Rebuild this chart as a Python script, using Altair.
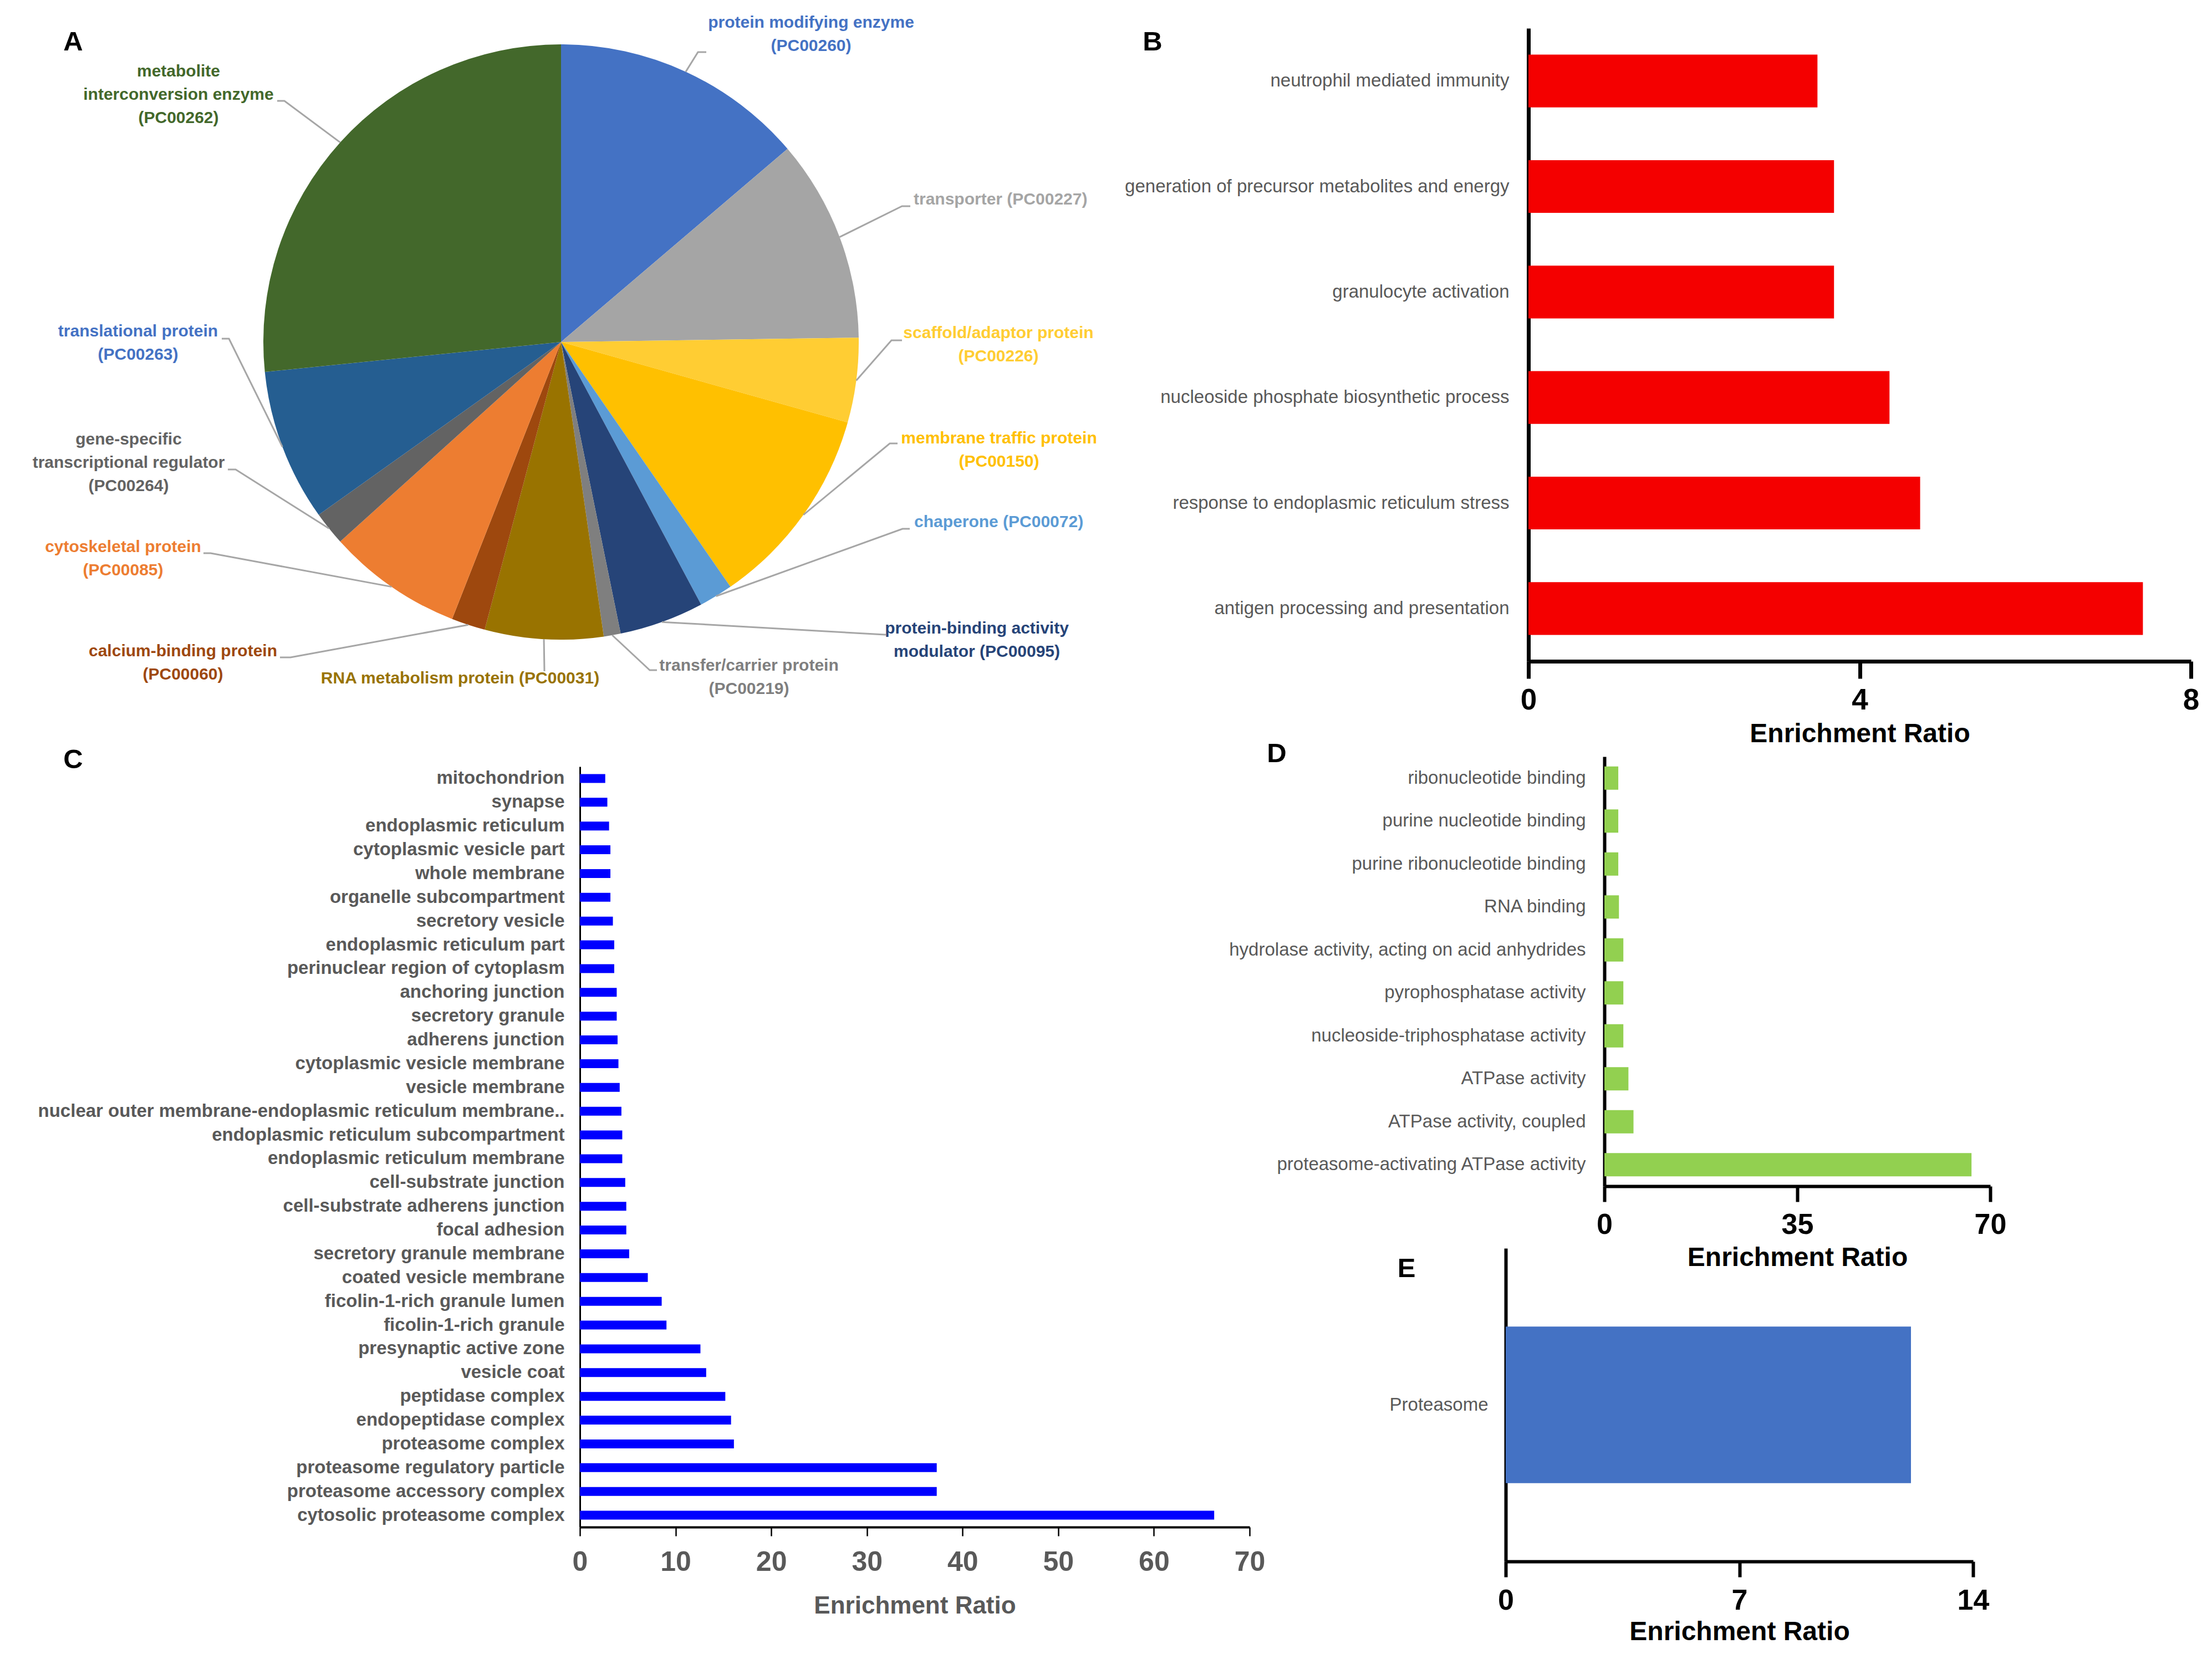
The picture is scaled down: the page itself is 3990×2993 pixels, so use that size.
import math
import altair as alt
import pandas as pd

# ---------------- data ----------------
# Panel A (pie): PANTHER protein classes, counts
pie_names = [
    "protein modifying enzyme", "transporter", "scaffold/adaptor protein",
    "membrane traffic protein", "chaperone", "protein-binding activity modulator",
    "transfer/carrier protein", "RNA metabolism protein", "calcium-binding protein",
    "cytoskeletal protein", "gene-specific transcriptional regulator",
    "translational protein", "metabolite interconversion enzyme",
]
pie_label_lines = [
    ["protein modifying enzyme", "(PC00260)"],
    ["transporter (PC00227)"],
    ["scaffold/adaptor protein", "(PC00226)"],
    ["membrane traffic protein", "(PC00150)"],
    ["chaperone (PC00072)"],
    ["protein-binding activity", "modulator (PC00095)"],
    ["transfer/carrier protein", "(PC00219)"],
    ["RNA metabolism protein (PC00031)"],
    ["calcium-binding protein", "(PC00060)"],
    ["cytoskeletal protein", "(PC00085)"],
    ["gene-specific", "transcriptional regulator", "(PC00264)"],
    ["translational protein", "(PC00263)"],
    ["metabolite", "interconversion enzyme", "(PC00262)"],
]
pie_counts = [15, 12, 5, 12, 2, 5, 1, 7, 2, 8, 2, 9, 29]
pie_colors = ["#4472C4", "#A5A5A5", "#FFCD33", "#FFC000", "#5B9BD5", "#264478",
              "#7F7F7F", "#997300", "#9E480E", "#ED7D31", "#636363", "#255E91", "#43682B"]
pie_label_colors = ["#4472C4", "#A5A5A5", "#FFCD33", "#FFC000", "#5B9BD5", "#264478",
                    "#7F7F7F", "#997300", "#9E480E", "#ED7D31", "#636363", "#4472C4", "#43682B"]

# Panel B
b_terms = ["neutrophil mediated immunity", "generation of precursor metabolites and energy",
           "granulocyte activation", "nucleoside phosphate biosynthetic process",
           "response to endoplasmic reticulum stress", "antigen processing and presentation"]
b_values = [3.49, 3.69, 3.69, 4.36, 4.73, 7.42]

# Panel C
c_terms = ["mitochondrion", "synapse", "endoplasmic reticulum", "cytoplasmic vesicle part",
           "whole membrane", "organelle subcompartment", "secretory vesicle",
           "endoplasmic reticulum part", "perinuclear region of cytoplasm", "anchoring junction",
           "secretory granule", "adherens junction", "cytoplasmic vesicle membrane",
           "vesicle membrane", "nuclear outer membrane-endoplasmic reticulum membrane..",
           "endoplasmic reticulum subcompartment", "endoplasmic reticulum membrane",
           "cell-substrate junction", "cell-substrate adherens junction", "focal adhesion",
           "secretory granule membrane", "coated vesicle membrane", "ficolin-1-rich granule lumen",
           "ficolin-1-rich granule", "presynaptic active zone", "vesicle coat", "peptidase complex",
           "endopeptidase complex", "proteasome complex", "proteasome regulatory particle",
           "proteasome accessory complex", "cytosolic proteasome complex"]
c_values = [2.65, 2.87, 3.05, 3.19, 3.19, 3.19, 3.45, 3.59, 3.59, 3.85, 3.85, 3.94, 4.03, 4.16,
            4.34, 4.43, 4.43, 4.74, 4.85, 4.85, 5.15, 7.1, 8.55, 9.05, 12.6, 13.2, 15.2, 15.8,
            16.1, 37.3, 37.3, 66.3]

# Panel D
d_terms = ["ribonucleotide binding", "purine nucleotide binding", "purine ribonucleotide binding",
           "RNA binding", "hydrolase activity, acting on acid anhydrides", "pyrophosphatase activity",
           "nucleoside-triphosphatase activity", "ATPase activity", "ATPase activity, coupled",
           "proteasome-activating ATPase activity"]
d_values = [2.52, 2.52, 2.52, 2.64, 3.44, 3.44, 3.44, 4.36, 5.28, 66.6]

# Panel E
e_terms = ["Proteasome"]
e_values = [12.14]

b_ticks = [0, 4, 8]
c_ticks = [0, 10, 20, 30, 40, 50, 60, 70]
d_ticks = [0, 35, 70]
e_ticks = [0, 7, 14]
axis_title = "Enrichment Ratio"
panel_letters = ["A", "B", "C", "D", "E"]

# ---------------- layout (pixels, measured in page coordinates) ----------------
W, H = 3974, 2977
M = 8
FONT = "Liberation Sans, Arial, Helvetica, sans-serif"
GRAY = "#595959"


def P(v):
    return v - M


PIE_CX, PIE_CY, PIE_R = 1012, 617, 537
# per label: anchor x, first line y, align, elbow point, stub end point
LABEL_LAYOUT = [
    (1463, 41, "center", (1259, 94), (1274, 94)),
    (1648, 360, "left", (1627, 372), (1642, 372)),
    (1801, 601, "center", (1608, 614), (1627, 614)),
    (1802, 791, "center", (1605, 800), (1619, 800)),
    (1649, 942, "left", (1628, 954), (1641, 954)),
    (1762, 1134, "center", (1596, 1145), (1598, 1145)),
    (1351, 1201, "center", (1172, 1209), (1185, 1209)),
    (830, 1224, "center", (982, 1211), (982, 1211)),
    (330, 1175, "center", (524, 1186), (505, 1186)),
    (222, 987, "center", (380, 998), (367, 998)),
    (232, 793, "center", (425, 847), (411, 847)),
    (249, 598, "center", (413, 611), (400, 611)),
    (322, 129, "center", (513, 182), (500, 182)),
]
LINE_GAP = 42
LETTER_POS = [(132, 76), (2079, 76), (132, 1371), (2303, 1360), (2537, 2289)]

# ---------------- panel A ----------------
pie_df = pd.DataFrame({"cat": pie_names, "n": pie_counts, "idx": list(range(len(pie_names)))})
color_scale = alt.Scale(domain=pie_names, range=pie_colors)
label_color_scale = alt.Scale(domain=pie_names, range=pie_label_colors)

pie = alt.Chart(pie_df).mark_arc(radius=PIE_R).encode(
    theta=alt.Theta("n:Q", stack=True),
    color=alt.Color("cat:N", scale=color_scale, legend=None),
    order=alt.Order("idx:Q"),
    x=alt.value(P(PIE_CX)),
    y=alt.value(P(PIE_CY)),
)

total = sum(pie_counts)
label_rows, line_rows = [], []
cum = 0
for i, (name, n, lines) in enumerate(zip(pie_names, pie_counts, pie_label_lines)):
    mid = (cum + n / 2) / total * 2 * math.pi
    cum += n
    ax, ay, align, elbow, stub = LABEL_LAYOUT[i]
    for j, t in enumerate(lines):
        label_rows.append({"cat": name, "text": t, "x": P(ax), "y": P(ay + j * LINE_GAP), "align": align})
    ex = PIE_CX + PIE_R * math.sin(mid)
    ey = PIE_CY - PIE_R * math.cos(mid)
    for k, (px, py) in enumerate([(ex, ey), elbow, stub]):
        line_rows.append({"cat": name, "k": k, "x": P(px), "y": P(py)})

lab_df = pd.DataFrame(label_rows)
line_df = pd.DataFrame(line_rows)

leaders = alt.Chart(line_df).mark_line(color="#A6A6A6", strokeWidth=3).encode(
    x=alt.X("x:Q", scale=None, axis=None),
    y=alt.Y("y:Q", scale=None, axis=None),
    detail="cat:N",
    order="k:Q",
)


def pie_text(align):
    return alt.Chart(lab_df[lab_df["align"] == align]).mark_text(
        align=align, baseline="middle", font=FONT, fontSize=30, fontWeight="bold"
    ).encode(
        x=alt.X("x:Q", scale=None, axis=None),
        y=alt.Y("y:Q", scale=None, axis=None),
        text="text:N",
        color=alt.Color("cat:N", scale=label_color_scale, legend=None),
    )


# ---------------- bar panels ----------------
def bar_panel(terms, values, color, xdom, xrange, ticks, yrange, pin, pout,
              xaxis_style, yaxis_style):
    df = pd.DataFrame({"term": terms, "ratio": values})
    x0, x1 = xrange
    y0, y1 = yrange
    xa = dict(
        orient="bottom", offset=P(y1) - H, values=ticks, title=axis_title, grid=False,
        labelFlush=False, labelFont=FONT, titleFont=FONT, titleBaseline="alphabetic",
        titleX=P((x0 + x1) / 2), domainColor="black", tickColor="black",
    )
    xa.update(xaxis_style)
    ya = dict(
        orient="left", offset=-P(x0), title=None, ticks=False, tickSize=0, grid=False,
        labelLimit=0, labelFont=FONT, domainColor="black", labelColor=GRAY,
    )
    ya.update(yaxis_style)
    return alt.Chart(df).mark_bar(color=color).encode(
        x=alt.X("ratio:Q", scale=alt.Scale(domain=xdom, range=[P(x0), P(x1)], nice=False, zero=True),
                axis=alt.Axis(**xa)),
        y=alt.Y("term:N", sort=terms,
                scale=alt.Scale(range=[P(y0), P(y1)], paddingInner=pin, paddingOuter=pout),
                axis=alt.Axis(**ya)),
    )


chart_b = bar_panel(
    b_terms, b_values, "#F40000", [0, 8], (2757, 3952), b_ticks, (51, 1193), 0.5, 0.25,
    dict(domainWidth=7, tickWidth=7, tickSize=31, labelFontSize=53, labelFontWeight="bold",
         labelColor="black", labelPadding=13, titleFontSize=48, titleFontWeight="bold",
         titleColor="black", titleY=145),
    dict(domainWidth=7, labelFontSize=33, labelPadding=35),
)

chart_c = bar_panel(
    c_terms, c_values, "#0000FF", [0, 70], (1046, 2254), c_ticks, (1383, 2755), 0.627, 0.3135,
    dict(domainWidth=4, tickWidth=2.5, tickSize=16, labelFontSize=50, labelFontWeight="bold",
         labelColor=GRAY, labelPadding=22, titleFontSize=44, titleFontWeight="bold",
         titleColor=GRAY, titleY=155),
    dict(domainWidth=3, labelFontSize=33, labelFontWeight="bold", labelPadding=28),
)

chart_d = bar_panel(
    d_terms, d_values, "#92D050", [0, 70], (2894, 3590), d_ticks, (1365, 2140), 0.46, 0.23,
    dict(domainWidth=6, tickWidth=6, tickSize=28, labelFontSize=52, labelFontWeight="bold",
         labelColor="black", labelPadding=16, titleFontSize=48, titleFontWeight="bold",
         titleColor="black", titleY=143),
    dict(domainWidth=6, labelFontSize=33, labelPadding=34),
)

chart_e = bar_panel(
    e_terms, e_values, "#4472C4", [0, 14], (2716, 3559), e_ticks, (2252, 2817), 0.5, 0.25,
    dict(domainWidth=6, tickWidth=6, tickSize=28, labelFontSize=52, labelFontWeight="bold",
         labelColor="black", labelPadding=17, titleFontSize=48, titleFontWeight="bold",
         titleColor="black", titleY=141),
    dict(domainWidth=6, labelFontSize=33, labelPadding=32),
)

# ---------------- panel letters ----------------
let_df = pd.DataFrame({
    "t": panel_letters,
    "x": [P(p[0]) for p in LETTER_POS],
    "y": [P(p[1]) for p in LETTER_POS],
})
letters = alt.Chart(let_df).mark_text(
    font=FONT, fontSize=49, fontWeight="bold", color="black", align="center", baseline="middle"
).encode(
    x=alt.X("x:Q", scale=None, axis=None),
    y=alt.Y("y:Q", scale=None, axis=None),
    text="t:N",
)

chart = alt.layer(
    pie, leaders, pie_text("center"), pie_text("left"),
    chart_b, chart_c, chart_d, chart_e, letters,
).resolve_scale(
    x="independent", y="independent", color="independent", theta="independent"
).resolve_axis(
    x="independent", y="independent"
).properties(
    width=W, height=H, padding=0,
    autosize=alt.AutoSizeParams(type="none"),
).configure_view(stroke=None).configure_axis(grid=False)

chart.save("out.html", embed_options={"renderer": "svg", "actions": False})
